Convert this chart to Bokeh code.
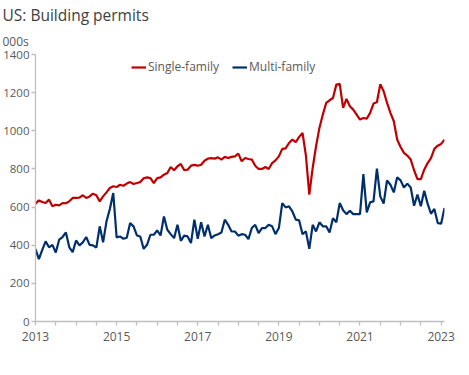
from bokeh.plotting import figure
from bokeh.models import (Range1d, FixedTicker, CustomJSTickFormatter, Title,
                          Legend, LegendItem)
from bokeh.embed import file_html
from bokeh.resources import INLINE

# Monthly data, Jan 2013 onward (thousands, SAAR)
start_year = 2013
single_family = [618, 635, 627, 621, 639, 604, 612, 609, 621, 620, 630, 648,
                 648, 649, 662, 648, 656, 670, 662, 630, 656, 677, 700, 709,
                 705, 717, 712, 723, 731, 721, 726, 731, 751, 756, 752, 726,
                 752, 756, 770, 779, 810, 793, 814, 826, 793, 796, 817, 821,
                 817, 822, 843, 854, 857, 854, 861, 849, 863, 857, 863, 866,
                 880, 840, 857, 852, 849, 817, 800, 800, 810, 800, 831, 845,
                 866, 905, 908, 936, 954, 940, 968, 989, 870, 665, 805, 919,
                 1015, 1085, 1146, 1160, 1172, 1242, 1246, 1120, 1167, 1129, 1111, 1085,
                 1059, 1067, 1064, 1094, 1143, 1150, 1244, 1207, 1146, 1094, 1050, 954,
                 915, 884, 870, 849, 793, 747, 747, 796, 831, 857, 905, 922,
                 931, 954]
multi_family = [380, 327, 376, 420, 389, 402, 362, 429, 443, 467, 389, 364,
                425, 399, 415, 443, 402, 399, 387, 499, 415, 525, 590, 674,
                441, 446, 434, 439, 516, 499, 451, 446, 381, 402, 455, 455,
                478, 451, 551, 481, 458, 437, 507, 423, 450, 446, 411, 534,
                434, 520, 446, 507, 437, 451, 458, 467, 534, 507, 472, 472,
                450, 458, 455, 432, 490, 507, 464, 490, 490, 507, 499, 458,
                490, 621, 598, 604, 577, 534, 530, 458, 472, 381, 507, 472,
                520, 499, 499, 467, 542, 520, 621, 583, 563, 581, 563, 563,
                563, 773, 572, 625, 630, 801, 656, 618, 740, 717, 677, 756,
                740, 703, 723, 703, 607, 665, 604, 686, 618, 565, 590, 516,
                513, 595]
series_names = ["Single-family", "Multi-family"]
y_ticks = [0, 200, 400, 600, 800, 1000, 1200, 1400]
x_ticks = [2013 + 0.5 * k for k in range(21)]

months = [start_year + i / 12 for i in range(len(single_family))]

FONT = "Open Sans"
RED = "#C00000"
BLUE = "#002F6C"
AXIS_GRAY = "#BFBFBF"
LABEL_GRAY = "#595959"

p = figure(frame_width=409, frame_height=267,
           x_range=Range1d(2013, 2023 + 1 / 12), y_range=Range1d(0, 1400),
           output_backend="svg", toolbar_location=None,
           min_border_left=33, min_border_right=11, min_border_bottom=30,
           min_border_top=5, outline_line_color=None,
           background_fill_color="white", border_fill_color="white")

sub = Title(text="000s", align="left", offset=-33, text_font=FONT,
            text_font_size="12px", text_font_style="normal",
            text_color=LABEL_GRAY, standoff=9)
p.add_layout(sub, "above")
main = Title(text="US: Building permits", align="left", offset=-33,
             text_font=FONT, text_font_size="15.5px", text_font_style="normal",
             text_color="#404040", standoff=2)
p.add_layout(main, "above")

r1 = p.line(months, single_family, line_color=RED, line_width=2.2)
r2 = p.line(months, multi_family, line_color=BLUE, line_width=2.2)

p.xgrid.visible = False
p.ygrid.visible = False

p.xaxis.ticker = FixedTicker(ticks=x_ticks)
p.xaxis.formatter = CustomJSTickFormatter(code="""
    const r = Math.round(tick);
    return (Math.abs(tick - r) < 1e-6 && r % 2 == 1) ? String(r) : "";
""")
p.yaxis.ticker = FixedTicker(ticks=y_ticks)

for ax in (p.xaxis[0], p.yaxis[0]):
    ax.axis_line_color = AXIS_GRAY
    ax.axis_line_width = 1.3
    ax.major_tick_line_color = AXIS_GRAY
    ax.major_tick_line_width = 1.3
    ax.major_tick_in = 0
    ax.major_tick_out = 4
    ax.minor_tick_line_color = None
    ax.major_label_text_font = FONT
    ax.major_label_text_color = LABEL_GRAY
p.xaxis.major_label_text_font_size = "12px"
p.xaxis.major_label_standoff = 6
p.yaxis.major_label_text_font_size = "11.5px"
p.yaxis.major_label_standoff = 2

legend = Legend(items=[LegendItem(label=series_names[0], renderers=[r1]),
                       LegendItem(label=series_names[1], renderers=[r2])],
                orientation="horizontal", location=(96, 246),
                padding=0, margin=0, spacing=13, label_standoff=2,
                glyph_width=15, glyph_height=16, label_height=16,
                label_text_font=FONT, label_text_font_size="12px",
                label_text_color=LABEL_GRAY,
                background_fill_alpha=0, border_line_alpha=0)
p.add_layout(legend, "center")

open("out.html", "w").write(file_html(p, INLINE))
